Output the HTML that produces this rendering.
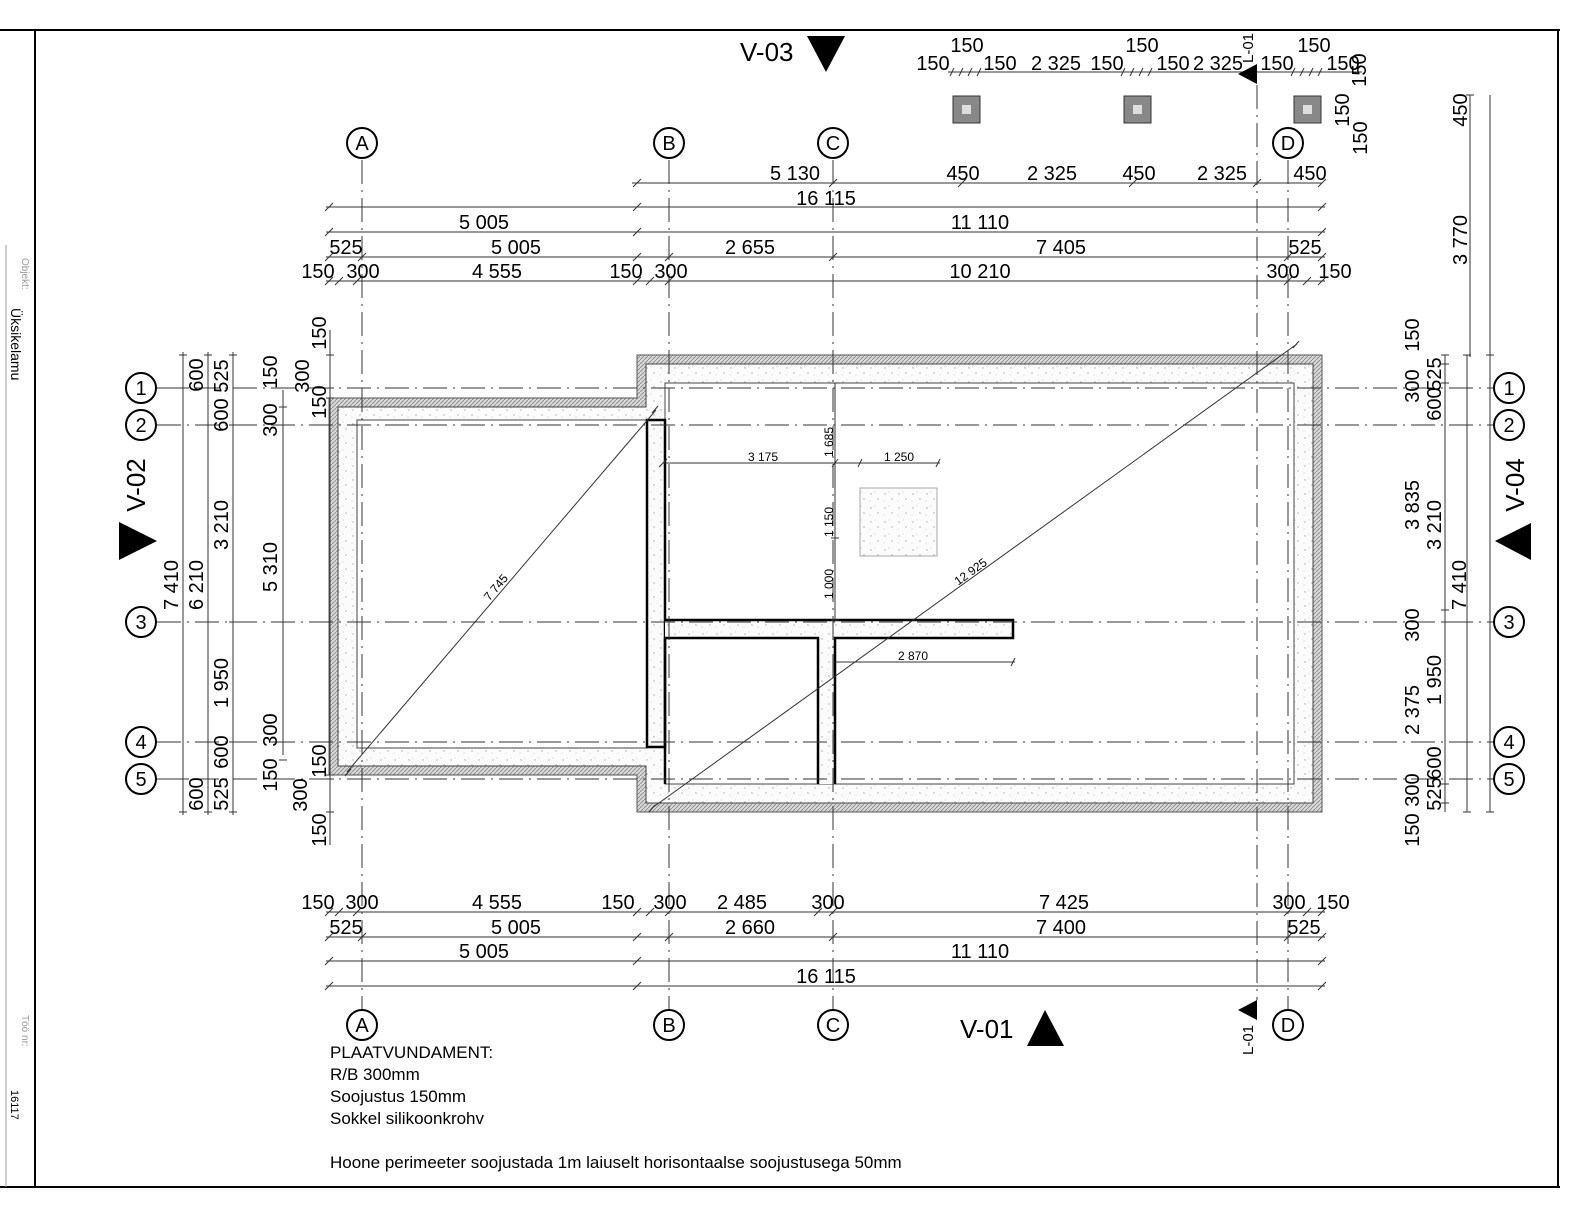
<!DOCTYPE html>
<html><head><meta charset="utf-8"><style>
html,body{margin:0;padding:0;background:#fff;overflow:hidden;width:1592px;height:1222px;}
svg{display:block;font-family:"Liberation Sans",sans-serif;}
</style></head><body>
<svg width="1592" height="1222" viewBox="0 0 1592 1222" xmlns="http://www.w3.org/2000/svg">
<defs>
<pattern id="conc" width="14" height="14" patternUnits="userSpaceOnUse">
<rect width="14" height="14" fill="#fbfbfb"/>
<circle cx="3" cy="4" r="0.7" fill="#aaa"/><circle cx="10" cy="9" r="0.7" fill="#aaa"/><circle cx="7" cy="2" r="0.5" fill="#bbb"/><circle cx="2" cy="11" r="0.5" fill="#bbb"/>
</pattern>
<pattern id="ins" width="4" height="4" patternUnits="userSpaceOnUse">
<rect width="4" height="4" fill="#d8d8d8"/><path d="M0 4L4 0" stroke="#888" stroke-width="0.8"/>
</pattern>
</defs>
<rect width="1592" height="1222" fill="#fff"/>
<!-- frame -->
<line x1="0" y1="30" x2="1560" y2="30" stroke="#000" stroke-width="2"/>
<line x1="0" y1="1187" x2="1560" y2="1187" stroke="#000" stroke-width="2"/>
<line x1="35" y1="30" x2="35" y2="1187" stroke="#000" stroke-width="2"/>
<line x1="1558" y1="30" x2="1558" y2="1187" stroke="#000" stroke-width="2"/>
<line x1="6" y1="245" x2="6" y2="1187" stroke="#999" stroke-width="1"/>
<g fill="#999" font-size="10"><text transform="translate(22,258) rotate(90)">Objekt:</text><text transform="translate(22,1015) rotate(90)">Töö nr:</text></g>
<g fill="#000" font-size="14"><text transform="translate(11,308) rotate(90)">Üksikelamu</text><text transform="translate(11,1090) rotate(90)" font-size="11">16117</text></g>

<!-- building -->
<path d="M637 355H1322V812H637V775H329V398H637Z" fill="url(#ins)" stroke="#555"/>
<path d="M646 364H1313V803H646V766H338V407H646Z" fill="url(#conc)" stroke="#444"/>
<path d="M665 383H1294V784H665Z" fill="#fff" stroke="#444"/>
<path d="M357 420H647V748H357Z" fill="#fff" stroke="#444"/>
<rect x="860" y="488" width="77" height="68" fill="url(#conc)" stroke="#aaa"/>
<!-- walls -->
<rect x="647" y="420" width="18" height="327" fill="url(#conc)" stroke="#000" stroke-width="2.5"/>
<rect x="665" y="620" width="348" height="18" fill="url(#conc)"/>
<rect x="818" y="638" width="17" height="146" fill="url(#conc)"/>
<g fill="none" stroke="#000" stroke-width="2.5">
<path d="M665 620H1013V638H835V784"/>
<path d="M665 638V784"/>
<path d="M665 638H818V784"/>
</g>

<!-- grid lines -->
<g stroke="#333" stroke-width="1" stroke-dasharray="24,6,2,6" fill="none">
<line x1="362" y1="160" x2="362" y2="1010"/><line x1="669" y1="160" x2="669" y2="1010"/>
<line x1="833" y1="160" x2="833" y2="1010"/><line x1="1288" y1="160" x2="1288" y2="1010"/>
<line x1="1257" y1="85" x2="1257" y2="1000"/>
<line x1="157" y1="388" x2="1493" y2="388"/><line x1="157" y1="425" x2="1493" y2="425"/>
<line x1="157" y1="622" x2="1493" y2="622"/><line x1="157" y1="742" x2="1493" y2="742"/>
<line x1="157" y1="779" x2="1493" y2="779"/>
</g>
<!-- bubbles -->
<g fill="#fff" stroke="#000" stroke-width="2">
<circle cx="362" cy="143" r="15"/><circle cx="669" cy="143" r="15"/><circle cx="833" cy="143" r="15"/><circle cx="1288" cy="143" r="15"/>
<circle cx="362" cy="1025" r="15"/><circle cx="669" cy="1025" r="15"/><circle cx="833" cy="1025" r="15"/><circle cx="1288" cy="1025" r="15"/>
<circle cx="141" cy="388" r="15"/><circle cx="141" cy="425" r="15"/><circle cx="141" cy="622" r="15"/><circle cx="141" cy="742" r="15"/><circle cx="141" cy="779" r="15"/>
<circle cx="1509" cy="388" r="15"/><circle cx="1509" cy="425" r="15"/><circle cx="1509" cy="622" r="15"/><circle cx="1509" cy="742" r="15"/><circle cx="1509" cy="779" r="15"/>
</g>
<g font-size="20" text-anchor="middle" fill="#000">
<text x="362" y="150">A</text><text x="669" y="150">B</text><text x="833" y="150">C</text><text x="1288" y="150">D</text>
<text x="362" y="1032">A</text><text x="669" y="1032">B</text><text x="833" y="1032">C</text><text x="1288" y="1032">D</text>
<text x="141" y="395">1</text><text x="141" y="432">2</text><text x="141" y="629">3</text><text x="141" y="749">4</text><text x="141" y="786">5</text>
<text x="1509" y="395">1</text><text x="1509" y="432">2</text><text x="1509" y="629">3</text><text x="1509" y="749">4</text><text x="1509" y="786">5</text>
</g>

<!-- dimension lines -->
<g stroke="#333" stroke-width="1">
<line x1="632" y1="183" x2="1322" y2="183"/><line x1="326" y1="207" x2="1325" y2="207"/>
<line x1="326" y1="232" x2="1325" y2="232"/><line x1="326" y1="257" x2="1325" y2="257"/>
<line x1="326" y1="281" x2="1325" y2="281"/>
<line x1="326" y1="912" x2="1325" y2="912"/><line x1="326" y1="937" x2="1325" y2="937"/>
<line x1="326" y1="961" x2="1325" y2="961"/><line x1="326" y1="986" x2="1325" y2="986"/>
<line x1="948" y1="72" x2="1362" y2="72"/>
<line x1="183" y1="352" x2="183" y2="815"/><line x1="208" y1="352" x2="208" y2="815"/><line x1="233" y1="352" x2="233" y2="815"/>
<line x1="283" y1="390" x2="283" y2="755"/>
<line x1="330" y1="330" x2="330" y2="845"/>
<line x1="1445" y1="355" x2="1445" y2="812"/><line x1="1467" y1="355" x2="1467" y2="812"/><line x1="1490" y1="95" x2="1490" y2="812"/>
<line x1="1470" y1="95" x2="1470" y2="357"/>
<line x1="663" y1="463" x2="940" y2="463"/><line x1="835" y1="383" x2="835" y2="620"/>
<line x1="835" y1="662" x2="1015" y2="662"/>
<line x1="347" y1="772" x2="656" y2="410"/><line x1="652" y1="808" x2="1297" y2="344"/>
</g>
<!-- ticks -->
<g stroke="#333" stroke-width="1">
<path d="M633 187l8-8M829 187l8-8M958 187l8-8M1129 187l8-8M1253 187l8-8M1318 187l8-8"/>
<path d="M325 211l8-8M633 211l8-8M1318 211l8-8M325 236l8-8M633 236l8-8M1318 236l8-8"/>
<path d="M325 261l8-8M358 261l8-8M633 261l8-8M665 261l8-8M829 261l8-8M1284 261l8-8M1318 261l8-8"/>
<path d="M325 285l8-8M335 285l8-8M353 285l8-8M633 285l8-8M646 285l8-8M665 285l8-8M1284 285l8-8M1303 285l8-8M1318 285l8-8"/>
<path d="M325 916l8-8M335 916l8-8M353 916l8-8M633 916l8-8M646 916l8-8M665 916l8-8M814 916l8-8M829 916l8-8M1284 916l8-8M1303 916l8-8M1318 916l8-8"/>
<path d="M325 941l8-8M358 941l8-8M633 941l8-8M665 941l8-8M829 941l8-8M1284 941l8-8M1318 941l8-8"/>
<path d="M325 965l8-8M633 965l8-8M1318 965l8-8M325 990l8-8M633 990l8-8M1318 990l8-8"/>
<path d="M950 76l4-8M959 76l4-8M968 76l4-8M977 76l4-8M1121 76l4-8M1130 76l4-8M1139 76l4-8M1148 76l4-8M1291 76l4-8M1300 76l4-8M1309 76l4-8M1318 76l4-8"/>
<path d="M179 355h8M179 388h8M179 779h8M179 812h8M204 355h8M204 425h8M204 742h8M204 812h8M229 355h8M229 425h8M229 622h8M229 742h8M229 812h8"/>
<path d="M279 407h8M279 425h8M279 742h8M279 760h8M326 355h8M326 388h8M326 398h8M326 775h8M326 779h8M326 812h8"/>
<path d="M1441 355h8M1441 364h8M1441 383h8M1441 610h8M1441 622h8M1441 784h8M1441 803h8M1463 355h8M1463 425h8M1463 622h8M1463 742h8M1463 812h8M1486 355h8M1486 812h8M1466 95h8"/>
<path d="M659 467l8-8M832 467l6-8M858 467l4-8M936 467l4-8M1011 666l4-8M831 383h8M831 463h8M831 538h8M831 620h8M345 776l6-7M652 413l6-7M649 812l6-7M1293 348l6-7"/>
</g>
<!-- footings -->
<g><rect x="953" y="96" width="27" height="27" fill="#888" stroke="#333"/><rect x="962" y="105" width="9" height="9" fill="#ddd"/>
<rect x="1124" y="96" width="27" height="27" fill="#888" stroke="#333"/><rect x="1133" y="105" width="9" height="9" fill="#ddd"/>
<rect x="1294" y="96" width="27" height="27" fill="#888" stroke="#333"/><rect x="1303" y="105" width="9" height="9" fill="#ddd"/></g>

<!-- section markers -->
<path d="M807 36H845L826 72Z" fill="#000"/><text x="740" y="61" font-size="26">V-03</text>
<path d="M1027 1046H1064L1045 1010Z" fill="#000"/><text x="960" y="1038" font-size="26">V-01</text>
<path d="M119 522V560L157 541Z" fill="#000"/><text transform="translate(145,485) rotate(-90)" font-size="26" text-anchor="middle">V-02</text>
<path d="M1531 523V560L1495 541Z" fill="#000"/><text transform="translate(1524,485) rotate(-90)" font-size="26" text-anchor="middle">V-04</text>
<path d="M1257 64V84L1238 74Z" fill="#000"/><text transform="translate(1253,48) rotate(-90)" font-size="15" text-anchor="middle">L-01</text>
<path d="M1257 1000V1020L1238 1010Z" fill="#000"/><text transform="translate(1253,1040) rotate(-90)" font-size="15" text-anchor="middle">L-01</text>

<!-- horizontal dim texts -->
<g font-size="20" text-anchor="middle" fill="#000">
<text x="967" y="52">150</text><text x="1142" y="52">150</text><text x="1314" y="52">150</text>
<text x="933" y="70">150</text><text x="1000" y="70">150</text><text x="1056" y="70">2 325</text><text x="1107" y="70">150</text><text x="1173" y="70">150</text><text x="1218" y="70">2 325</text><text x="1277" y="70">150</text><text x="1343" y="70">150</text>
<text x="795" y="180">5 130</text><text x="963" y="180">450</text><text x="1052" y="180">2 325</text><text x="1139" y="180">450</text><text x="1222" y="180">2 325</text><text x="1310" y="180">450</text>
<text x="826" y="205">16 115</text>
<text x="484" y="229">5 005</text><text x="980" y="229">11 110</text>
<text x="346" y="254">525</text><text x="516" y="254">5 005</text><text x="750" y="254">2 655</text><text x="1061" y="254">7 405</text><text x="1305" y="254">525</text>
<text x="318" y="278">150</text><text x="363" y="278">300</text><text x="497" y="278">4 555</text><text x="626" y="278">150</text><text x="671" y="278">300</text><text x="980" y="278">10 210</text><text x="1283" y="278">300</text><text x="1335" y="278">150</text>
<text x="318" y="909">150</text><text x="362" y="909">300</text><text x="497" y="909">4 555</text><text x="618" y="909">150</text><text x="670" y="909">300</text><text x="742" y="909">2 485</text><text x="828" y="909">300</text><text x="1064" y="909">7 425</text><text x="1289" y="909">300</text><text x="1333" y="909">150</text>
<text x="346" y="934">525</text><text x="516" y="934">5 005</text><text x="750" y="934">2 660</text><text x="1061" y="934">7 400</text><text x="1304" y="934">525</text>
<text x="484" y="958">5 005</text><text x="980" y="958">11 110</text>
<text x="826" y="983">16 115</text>
</g>
<!-- rotated dim texts -->
<g font-size="20" text-anchor="middle" fill="#000">
<text transform="translate(1349,110) rotate(-90)">150</text><text transform="translate(1367,138) rotate(-90)">150</text><text transform="translate(1366,70) rotate(-90)">150</text>
<text transform="translate(1467,110) rotate(-90)">450</text><text transform="translate(1467,240) rotate(-90)">3 770</text>
<text transform="translate(203,375) rotate(-90)">600</text><text transform="translate(228,376) rotate(-90)">525</text><text transform="translate(228,415) rotate(-90)">600</text>
<text transform="translate(277,372) rotate(-90)">150</text><text transform="translate(277,420) rotate(-90)">300</text>
<text transform="translate(326,333) rotate(-90)">150</text><text transform="translate(309,376) rotate(-90)">300</text><text transform="translate(326,402) rotate(-90)">150</text>
<text transform="translate(178,585) rotate(-90)">7 410</text><text transform="translate(203,585) rotate(-90)">6 210</text><text transform="translate(228,525) rotate(-90)">3 210</text>
<text transform="translate(277,567) rotate(-90)">5 310</text><text transform="translate(228,683) rotate(-90)">1 950</text><text transform="translate(228,752) rotate(-90)">600</text>
<text transform="translate(277,730) rotate(-90)">300</text><text transform="translate(277,775) rotate(-90)">150</text>
<text transform="translate(203,794) rotate(-90)">600</text><text transform="translate(228,794) rotate(-90)">525</text>
<text transform="translate(326,761) rotate(-90)">150</text><text transform="translate(307,795) rotate(-90)">300</text><text transform="translate(326,830) rotate(-90)">150</text>
<text transform="translate(1419,335) rotate(-90)">150</text><text transform="translate(1419,386) rotate(-90)">300</text><text transform="translate(1441,374) rotate(-90)">525</text><text transform="translate(1441,404) rotate(-90)">600</text>
<text transform="translate(1419,505) rotate(-90)">3 835</text><text transform="translate(1441,525) rotate(-90)">3 210</text><text transform="translate(1466,585) rotate(-90)">7 410</text>
<text transform="translate(1419,625) rotate(-90)">300</text><text transform="translate(1441,680) rotate(-90)">1 950</text><text transform="translate(1419,710) rotate(-90)">2 375</text>
<text transform="translate(1441,763) rotate(-90)">600</text><text transform="translate(1419,790) rotate(-90)">300</text><text transform="translate(1441,794) rotate(-90)">525</text><text transform="translate(1419,830) rotate(-90)">150</text>
</g>
<!-- small interior dims -->
<g font-size="12" fill="#000" text-anchor="middle">
<text x="763" y="461">3 175</text><text x="899" y="461">1 250</text><text x="913" y="660">2 870</text>
<text transform="translate(833,442) rotate(-90)">1 685</text><text transform="translate(833,522) rotate(-90)">1 150</text><text transform="translate(833,584) rotate(-90)">1 000</text>
<text transform="translate(499,590) rotate(-50)">7 745</text><text transform="translate(973,575) rotate(-36)">12 925</text>
</g>
<!-- notes -->
<g font-size="17" fill="#000">
<text x="330" y="1058">PLAATVUNDAMENT:</text>
<text x="330" y="1080">R/B 300mm</text>
<text x="330" y="1102">Soojustus 150mm</text>
<text x="330" y="1124">Sokkel silikoonkrohv</text>
<text x="330" y="1168">Hoone perimeeter soojustada 1m laiuselt horisontaalse soojustusega 50mm</text>
</g>
</svg>
</body></html>
